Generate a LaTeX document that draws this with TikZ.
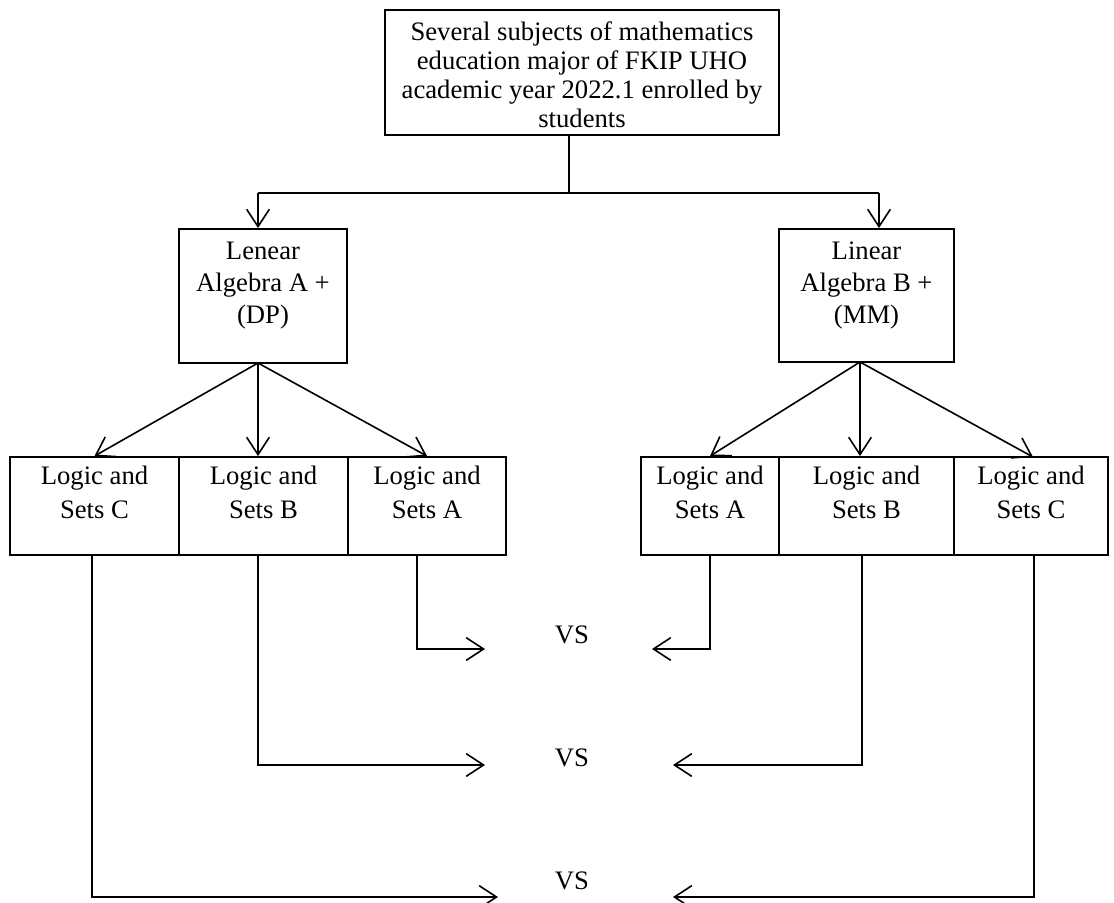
\documentclass[tikz,border=0pt]{standalone}
\usepackage{fontspec}
\setmainfont{Liberation Serif}
\usetikzlibrary{arrows.meta,fit}
\begin{document}
\begin{tikzpicture}[x=0.75pt,y=-0.75pt,
  box/.style={draw,line width=1.4pt,inner sep=0pt},
  txt/.style={align=center,inner sep=0pt,anchor=north},
  toptxt/.style={txt,font=\fontsize{20pt}{21.8pt}\selectfont,yshift=-9.5pt},
  midtxt/.style={txt,font=\fontsize{20pt}{24pt}\selectfont,yshift=-10.5pt},
  rowtxt/.style={txt,font=\fontsize{20pt}{25pt}\selectfont,yshift=-7.5pt},
  vs/.style={font=\fontsize{20pt}{24pt}\selectfont,inner sep=0pt},
  ln/.style={line width=1.2pt},
  arr/.style={line width=1.2pt,-{Straight Barb[length=13pt,width=17pt,line width=1.2pt]}}]
\useasboundingbox (0,0) rectangle (1114,903);

% boxes
\node[box,fit={(385,10)(779,135)}] (top) {};
\node[toptxt] (toptext) at (top.north) {Several subjects of mathematics\\education major of FKIP UHO\\academic year 2022.1 enrolled by\\students};

\node[box,fit={(179,229)(347,363)}] (la) {};
\node[midtxt] (latxt) at (la.north) {Lenear\\Algebra A +\\(DP)};
\node[box,fit={(779,229)(954,362)}] (ra) {};
\node[midtxt] (ratxt) at (ra.north) {Linear\\Algebra B +\\(MM)};

\node[box,fit={(10,457)(179,555)}] (c1) {};
\node[rowtxt] (c1txt) at (c1.north) {Logic and\\Sets C};
\node[box,fit={(179,457)(348,555)}] (b1) {};
\node[rowtxt] (b1txt) at (b1.north) {Logic and\\Sets B};
\node[box,fit={(348,457)(506,555)}] (a1) {};
\node[rowtxt] (a1txt) at (a1.north) {Logic and\\Sets A};

\node[box,fit={(641,457)(779,555)}] (a2) {};
\node[rowtxt] (a2txt) at (a2.north) {Logic and\\Sets A};
\node[box,fit={(779,457)(954,555)}] (b2) {};
\node[rowtxt] (b2txt) at (b2.north) {Logic and\\Sets B};
\node[box,fit={(954,457)(1108,555)}] (c2) {};
\node[rowtxt] (c2txt) at (c2.north) {Logic and\\Sets C};

% VS labels
\node[vs] (vs1) at (572,635) {VS};
\node[vs] (vs2) at (572,758) {VS};
\node[vs] (vs3) at (572,881) {VS};

% junction coordinates
\coordinate (j) at (569,193);
\coordinate (jl) at (258,193);
\coordinate (jr) at (879,193);
\coordinate (lo) at (258,363);
\coordinate (ro) at (860,362);

% top split
\draw[ln] (top.south -| j) -- (j);
\draw[ln] (jl) -- (jr);
\draw[arr] (jl) -- (jl |- la.north);
\draw[arr] (jr) -- (jr |- ra.north);

% fan out
\draw[arr] (lo) -- (c1.north);
\draw[arr] (lo) -- (lo |- b1.north);
\draw[arr] (lo) -- (a1.north);
\draw[arr] (ro) -- (a2.north);
\draw[arr] (ro) -- (ro |- b2.north);
\draw[arr] (ro) -- (1033,457);

% comparison connectors
\coordinate (a1e) at (485,649);
\coordinate (a2e) at (652,649);
\coordinate (b1e) at (485,765);
\coordinate (b2e) at (673,765);
\coordinate (c1e) at (498,897);
\coordinate (c2e) at (673,897);

\draw[arr] (a1.south -| 417,0) |- (a1e);
\draw[arr] (a2.south) |- (a2e);
\draw[arr] (b1.south -| 258,0) |- (b1e);
\draw[arr] (b2.south -| 862,0) |- (b2e);
\draw[arr] (c1.south -| 92,0) |- (c1e);
\draw[arr] (c2.south -| 1034,0) |- (c2e);
\end{tikzpicture}
\end{document}
